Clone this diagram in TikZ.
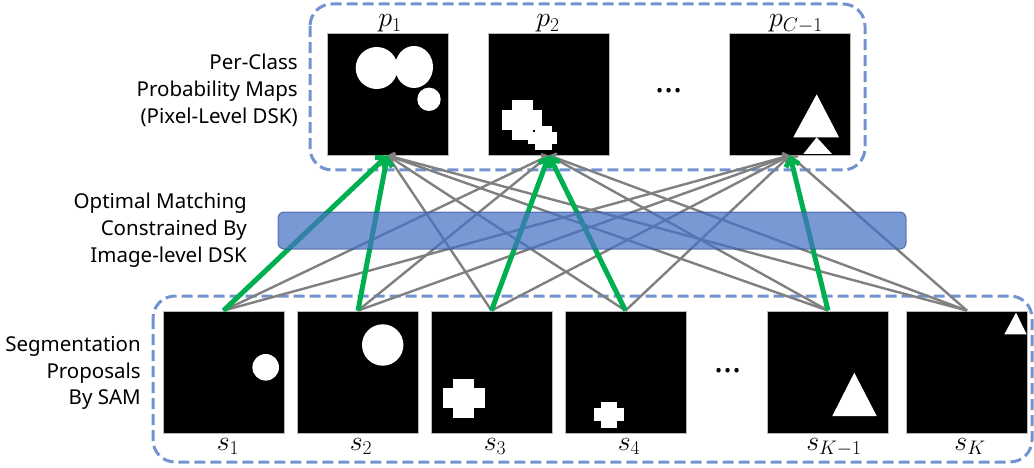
\RequirePackage{fix-cm}
\documentclass[tikz,border=0pt]{standalone}
\usepackage[no-math]{fontspec}
\setmainfont{Noto Sans}
\usetikzlibrary{arrows.meta}
\definecolor{frameblue}{RGB}{114,147,208}
\definecolor{matchgreen}{RGB}{0,176,80}
\definecolor{linkgray}{RGB}{128,128,128}
\definecolor{barblue}{RGB}{68,114,196}
\definecolor{baredge}{RGB}{47,82,143}
\begin{document}
\begin{tikzpicture}[x=1pt,y=-1pt,
  mapbox/.style={draw=gray!55, line width=0.8pt, fill=black,
    minimum width=121pt, minimum height=122pt, inner sep=0pt},
  groupframe/.style={draw=frameblue, line width=3pt,
    dash pattern=on 11pt off 5pt, rounded corners=22pt},
  link/.style={draw=linkgray, line width=2.4pt,
    -{Straight Barb[length=5pt,width=9pt]}},
  matched/.style={draw=matchgreen, line width=5pt,
    -{Straight Barb[length=7pt,width=14pt]}},
  sidelabel/.style={anchor=east, align=right, inner sep=0pt,
    font=\fontsize{20.5}{27}\selectfont},
  maplabel/.style={anchor=base, inner sep=0pt, font=\fontsize{28}{32}\selectfont},
  dots/.style={inner sep=0pt, font=\fontsize{34}{34}\selectfont\bfseries},
  matcher/.style={draw=baredge, line width=1pt, fill=barblue,
    fill opacity=0.72, draw opacity=0.7, rounded corners=6pt,
    minimum width=628pt, minimum height=37pt, inner sep=0pt}
]
\path[use as bounding box] (0,0) rectangle (1034,468);

% dashed group frames
\draw[groupframe] (310,4) rectangle (865,170);
\draw[groupframe] (153,296) rectangle (1032,462);

% per-class probability maps
\node[mapbox] (p1) at (387.5,94) {};
\node[mapbox] (p2) at (549,94) {};
\node[mapbox] (pc) at (790,94) {};
\node[dots] (pdots) at (669,91) {...};

\node[maplabel] (lp1) at (390,27) {$p_1$};
\node[maplabel] (lp2) at (548,27) {$p_2$};
\node[maplabel] (lpc) at (796,27) {$p_{C-1}$};

% segmentation proposals
\node[mapbox] (s1) at (223.5,372) {};
\node[mapbox] (s2) at (358,372) {};
\node[mapbox] (s3) at (491.5,372) {};
\node[mapbox] (s4) at (625.5,372) {};
\node[mapbox] (sk1) at (828,372) {};
\node[mapbox] (sk) at (967,372) {};
\node[dots] (sdots) at (728,371) {...};

\node[maplabel] (ls1) at (228,450) {$s_1$};
\node[maplabel] (ls2) at (361,450) {$s_2$};
\node[maplabel] (ls3) at (495,450) {$s_3$};
\node[maplabel] (ls4) at (629,450) {$s_4$};
\node[maplabel] (lsk1) at (834,450) {$s_{K-1}$};
\node[maplabel] (lsk) at (970,450) {$s_K$};

% contents of the maps
\begin{scope}[fill=white]
  % p1: two large discs and a small one
  \fill (376.7,68) circle (21pt);
  \fill (414,67) ellipse [x radius=19pt, y radius=21pt];
  \fill (429,99.3) circle (11.7pt);
  % p2: two overlapping blocky crosses
  \fill (511.7,100) rectangle (533.3,140);
  \fill (501.7,110) rectangle (541.7,130);
  \fill (535,126) rectangle (551.7,150);
  \fill (528.3,131.7) rectangle (557.3,144);
  % p_{C-1}: stacked triangles
  \fill (816.7,94.3) -- (793.3,137.3) -- (839,137.3) -- cycle;
  \fill (816.7,137.3) -- (803.3,154) -- (832,154) -- cycle;
  % proposals
  \fill (265.7,367.3) circle (13.3pt);
  \fill (382.7,345) circle (20.7pt);
  \fill (453.3,378.7) rectangle (474.1,418.3);
  \fill (443.1,388.3) rectangle (484.8,408.3);
  \fill (601,402.3) rectangle (616.7,427.7);
  \fill (594.2,408.3) rectangle (623.5,420.7);
  \fill (854.3,372.7) -- (832.3,416) -- (876.7,416) -- cycle;
  \fill (1016,312.7) -- (1004.3,334.3) -- (1026.7,334.3) -- cycle;
\end{scope}

% all candidate assignments
\foreach \s/\p in {s1/p2, s1/pc, s2/p2, s2/pc, s3/p1, s3/pc, s4/p1, s4/pc,
                   sk1/p1, sk1/p2, sk/p1, sk/p2, sk/pc}
  \draw[link] (\s.north) -- (\p.south);

% optimal matches
\foreach \s/\p in {s1/p1, s2/p1, s3/p2, s4/p2, sk1/pc}
  \draw[matched] (\s.north) -- (\p.south);

% matching layer
\node[matcher] (match) at (592,230.5) {};

% side captions
\node[sidelabel] (toplabel) at (298,90) {Per-Class\\Probability Maps\\(Pixel-Level DSK)};
\node[sidelabel] (midlabel) at (247,230) {Optimal Matching\\Constrained By\\Image-level DSK};
\node[sidelabel, font=\fontsize{20.5}{26.5}\selectfont] (botlabel) at (141,373) {Segmentation\\Proposals\\By SAM};
\end{tikzpicture}
\end{document}
